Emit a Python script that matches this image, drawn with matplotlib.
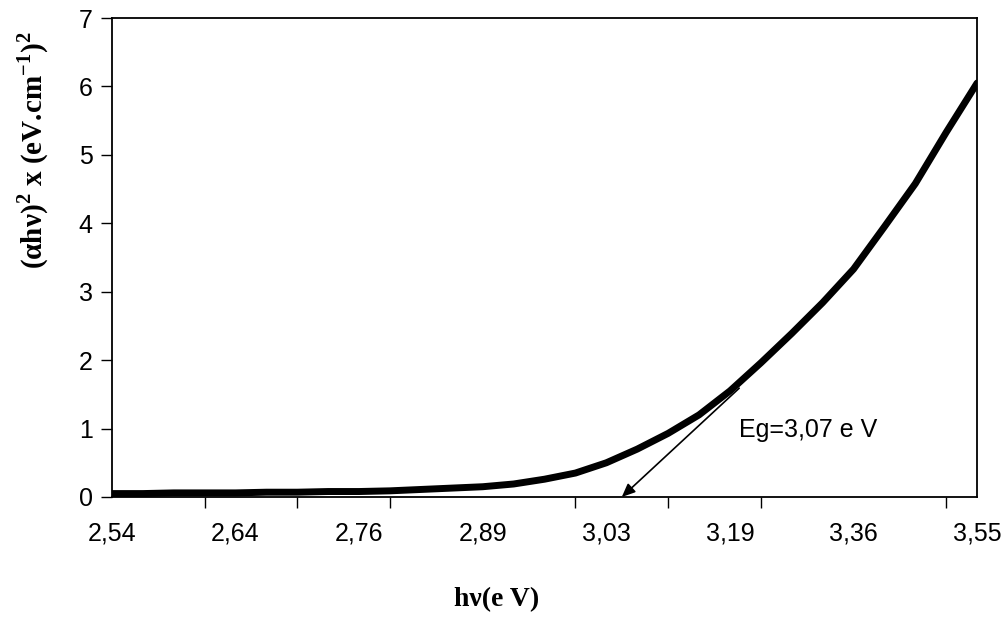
import matplotlib
matplotlib.use("Agg")
import matplotlib.pyplot as plt
import numpy as np

plt.rcParams["mathtext.fontset"] = "custom"
plt.rcParams["mathtext.rm"] = "Liberation Serif:bold"
plt.rcParams["mathtext.bf"] = "Liberation Serif:bold"

# hv tick labels (Excel category axis, one label every 40 points)
hv_labels = ["2,54", "2,64", "2,76", "2,89", "3,03", "3,19", "3,36", "3,55"]
n_points = 281
label_step = 40
tick_step = 30

# (alpha h nu)^2 read every 10 categories
sample_step = 10
alpha_hv_sq = [0.05, 0.05, 0.06, 0.06, 0.06, 0.07, 0.07, 0.08, 0.08, 0.09,
               0.11, 0.13, 0.15, 0.19, 0.26, 0.35, 0.50, 0.70, 0.93, 1.20,
               1.55, 1.96, 2.39, 2.84, 3.33, 3.95, 4.58, 5.33, 6.05]

eg_label = "Eg=3,07 e V"
eg_index = 165

x = np.arange(len(alpha_hv_sq)) * sample_step

fig = plt.figure(figsize=(10.06, 6.17), dpi=100)
ax = fig.add_axes([0.1113, 0.1945, 0.86, 0.7763])

ax.plot(x, alpha_hv_sq, color="black", lw=5, solid_capstyle="round")

ax.set_xlim(0, n_points - 1)
ax.set_ylim(0, 7)

ax.set_xticks(np.arange(0, n_points, label_step))
ax.set_xticklabels(hv_labels)
ax.set_xticks(np.arange(0, n_points - 1, tick_step), minor=True)
ax.tick_params(axis="x", which="major", length=0, pad=18)
ax.tick_params(axis="x", which="minor", length=8, width=1, direction="out")
ax.set_yticks(range(0, 8))
ax.tick_params(axis="y", length=8, width=1, pad=6)

for lbl in ax.get_xticklabels() + ax.get_yticklabels():
    lbl.set_fontfamily("Liberation Sans")
    lbl.set_fontsize(18)

for s in ax.spines.values():
    s.set_linewidth(1.3)

ax.annotate("", xy=(eg_index, 0), xytext=(203, 1.59),
            arrowprops=dict(arrowstyle="-|>,head_length=0.8,head_width=0.35",
                            color="black", lw=1.2, shrinkA=0, shrinkB=0))
ax.text(203, 0.98, eg_label, fontsize=18, family="Liberation Sans", va="center")

fig.text(0.033, 0.757, r"(αhν)$^{2}$ x (eV.cm$^{-1}$)$^{2}$",
         rotation=90, ha="center", va="center", fontsize=21, fontweight="bold",
         family="Liberation Serif")
fig.text(0.494, 0.028, "hν(e V)", ha="center", va="center", fontsize=20,
         fontweight="bold", family="Liberation Serif")

fig.savefig("out.png", dpi=100)
